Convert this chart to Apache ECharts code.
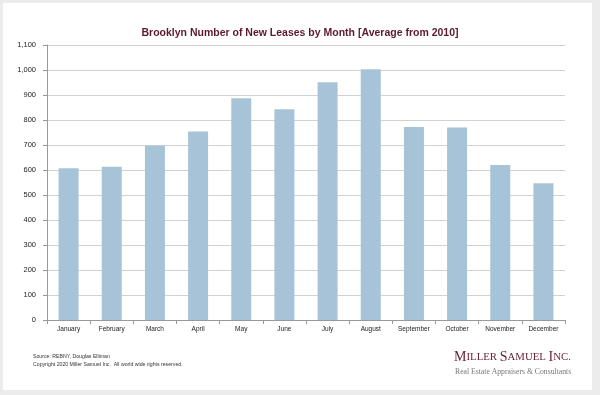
<!DOCTYPE html>
<html>
<head>
<meta charset="utf-8">
<script src="https://cdn.jsdelivr.net/npm/echarts@6/dist/echarts.min.js"></script>
<style>
html,body{margin:0;padding:0;background:#ececec;}
#c{width:600px;height:395px;}
</style>
</head>
<body>
<div id="c"></div>
<script>
var months = ['January','February','March','April','May','June','July','August','September','October','November','December'];
var leases = [607, 613, 697, 754, 887, 843, 951, 1003, 772, 770, 620, 547];
var yTicks = [0, 1100, 100];

var chart = echarts.init(document.getElementById('c'), null, {renderer: 'canvas'});
chart.setOption({
  backgroundColor: '#ececec',
  animation: false,
  title: {
    text: 'Brooklyn Number of New Leases by Month [Average from 2010]',
    left: 'center',
    top: 23,
    textStyle: {fontFamily: 'Liberation Sans, Arial', fontSize: 10.5, fontWeight: 'bold', color: '#5b1a2c'}
  },
  graphic: [
    {type: 'rect', z: -10, shape: {x: 3, y: 3, width: 589, height: 387}, style: {fill: '#ffffff'}, silent: true},
    {type: 'text', left: 33, top: 354, style: {text: 'Source: REBNY, Douglas Elliman', fontFamily: 'Liberation Sans, Arial', fontSize: 5.2, fill: '#333'}},
    {type: 'text', left: 33, top: 362, style: {text: 'Copyright 2020 Miller Samuel Inc.  All world wide rights reserved.', fontFamily: 'Liberation Sans, Arial', fontSize: 5.2, fill: '#333'}},
    {type: 'text', left: 454, top: 350, style: {
      text: '{b|M}{s|ILLER }{b|S}{s|AMUEL }{b|I}{s|NC.}',
      rich: {
        b: {fontFamily: 'Liberation Serif, Times New Roman', fontSize: 14, fill: '#6b2436'},
        s: {fontFamily: 'Liberation Serif, Times New Roman', fontSize: 10.8, fill: '#6b2436'}
      }
    }},
    {type: 'text', left: 455, top: 368, style: {text: 'Real Estate Appraisers & Consultants', fontFamily: 'Liberation Serif, Times New Roman', fontSize: 7.7, fill: '#777'}}
  ],
  grid: {left: 47, right: 35, top: 45, bottom: 75},
  xAxis: {
    type: 'category',
    data: months,
    axisLine: {lineStyle: {color: '#999', width: 1}},
    axisTick: {show: true, alignWithLabel: false, length: 4, lineStyle: {color: '#999'}},
    axisLabel: {fontFamily: 'Liberation Sans, Arial', fontSize: 6.5, color: '#222', margin: 6, interval: 0}
  },
  yAxis: {
    type: 'value',
    min: yTicks[0], max: yTicks[1], interval: yTicks[2],
    axisLine: {show: true, lineStyle: {color: '#999', width: 1}},
    axisTick: {show: true, length: 4, lineStyle: {color: '#999'}},
    splitLine: {lineStyle: {color: '#d2d2d2', width: 1}},
    axisLabel: {fontFamily: 'Liberation Sans, Arial', fontSize: 7.5, color: '#222', margin: 11,
      formatter: function (v) { return v.toLocaleString('en-US'); }}
  },
  series: [{
    type: 'bar',
    data: leases,
    barWidth: 20,
    itemStyle: {color: '#a7c3d8'}
  }]
});
</script>
</body>
</html>
